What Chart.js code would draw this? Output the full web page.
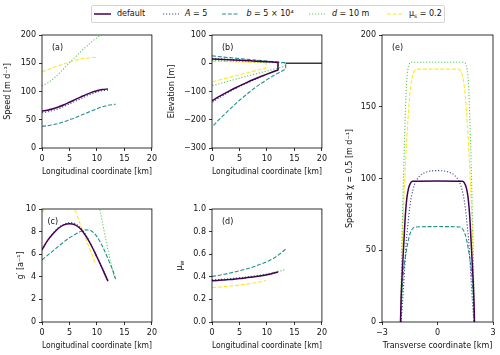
<!DOCTYPE html>
<html>
<head>
<meta charset="utf-8">
<script src="https://cdn.jsdelivr.net/npm/chart.js@4.4.1/dist/chart.umd.min.js"></script>
<style>
  body { margin: 0; width: 500px; height: 355px; position: relative; background: #fff; overflow: hidden; font-family: "DejaVu Sans", sans-serif; }
  canvas { position: absolute; }
  #legend { position: absolute; left: 91px; top: 5px; width: 352px; height: 16px; border: 1px solid #d4d4d4; border-radius: 2px; background: rgba(255,255,255,0.8); font-size: 8px; color: #111; }
  #legend svg, #legend span { position: absolute; }
  #legend span { top: 3px; line-height: 10px; white-space: nowrap; }
  #legend sub { font-size: 6px; vertical-align: -2px; line-height: 0; }
</style>
</head>
<body>
<div id="legend"></div>
<canvas id="panelA"></canvas>
<canvas id="panelB"></canvas>
<canvas id="panelC"></canvas>
<canvas id="panelD"></canvas>
<canvas id="panelE"></canvas>
<script>
// ---------- data ----------
// longitudinal positions of each run [km]
const kmDefault = [0, 1, 2, 3, 4, 5, 6, 7, 8, 9, 10, 11, 12];
const kmA = [0, 1, 2, 3, 4, 5, 6, 7, 8, 9, 10, 11, 12.1];
const kmB = [0, 1, 2, 3, 4, 5, 6, 7, 8, 9, 10, 11, 12, 13, 13.4];
const kmD = [0, 1, 2, 3, 4, 5, 6, 7, 8, 9, 10, 11, 12, 13, 13.3];
const kmMu = [0, 1, 2, 3, 4, 5, 6, 7, 8, 9, 9.8];

// (a) speed [m/d]
const speedDefault = [65.5, 67, 69.5, 72.5, 76.5, 81, 85.5, 90, 94.5, 98.5, 101.5, 103.5, 104.5];
const speedA = [62.5, 64, 66.5, 69.5, 73.5, 78, 82.5, 87, 91.5, 95.5, 99, 101.5, 102.5];
const speedB = [38.5, 39.5, 41.5, 43.5, 46.5, 50, 53.5, 57.5, 61.5, 65.5, 69.5, 73, 75.5, 77, 77.5];
const speedD = [110, 115, 122, 131, 141, 151, 160.5, 170, 179, 187.5, 195, 202, 209, 215, 217];
const speedMu = [135, 138.5, 142, 145.5, 149, 152, 155, 157.5, 159, 160, 160.3];

// (b) surface and bed elevation [m]
const surfDefault = [15, 14, 13.1, 12.2, 11.3, 10.4, 9.5, 8.5, 7.5, 6.4, 5.3, 4.2, 3];
const bedDefault = [-133, -121, -110, -99.5, -89.5, -80, -71, -62, -54, -46, -38.5, -31, -24];
const surfA = [17, 16, 15, 14, 13, 12, 11, 10, 8.9, 7.8, 6.6, 5.3, 3.5];
const bedA = [-139, -126, -114, -103, -92.5, -82.5, -73, -64, -55, -47, -39, -32, -25];
const surfB = [26, 24, 22, 20.2, 18.4, 16.6, 14.8, 13, 11.2, 9.4, 7.6, 5.8, 4, 2.2, 1.5];
const bedB = [-226, -205, -186, -167, -149, -131, -115, -99, -84, -71, -58, -46, -35, -25, -20];
const surfD = [10, 9.3, 8.6, 7.9, 7.2, 6.5, 5.8, 5.1, 4.4, 3.7, 3, 2.3, 1.6, 0.9, 0.6];
const bedD = [-80, -74.5, -69, -63.5, -58, -52.5, -47.5, -42.5, -37.5, -32.5, -27.5, -22.5, -17.5, -12, -9];
const surfMu = [7, 6.5, 6, 5.5, 5, 4.5, 4, 3.5, 3, 2.5, 2];
const bedMu = [-66, -61, -56, -51, -46, -41, -36, -31, -26, -21, -17];
const seaKm = [13.4, 20];
const seaLevel = [0, 0];

// (c) g' [1/a]
const gDefault = [6.4, 7.2, 7.8, 8.3, 8.6, 8.7, 8.6, 8.25, 7.6, 6.75, 5.75, 4.7, 3.6];
const gA = [6.35, 7.2, 7.85, 8.35, 8.65, 8.8, 8.7, 8.35, 7.7, 6.8, 5.8, 4.75, 3.6];
const gB = [5.5, 5.9, 6.3, 6.7, 7.1, 7.45, 7.75, 8.0, 8.15, 8.05, 7.55, 6.7, 5.6, 4.4, 3.8];
const gD = [14, 15, 16, 16.6, 17, 17, 16.8, 16.2, 15.2, 13.6, 11.2, 8.8, 6.4, 4.3, 3.75];
const gMu = [9.7, 10.3, 10.8, 11.1, 11.1, 10.7, 9.9, 8.6, 7.3, 6.1, 5.1];

// (d) mu_w
const muDefault = [0.365, 0.368, 0.371, 0.375, 0.379, 0.384, 0.389, 0.395, 0.402, 0.41, 0.419, 0.43, 0.443];
const muA = [0.372, 0.375, 0.378, 0.382, 0.386, 0.39, 0.395, 0.4, 0.406, 0.413, 0.421, 0.431, 0.445];
const muB = [0.404, 0.411, 0.42, 0.43, 0.441, 0.453, 0.466, 0.48, 0.497, 0.515, 0.535, 0.558, 0.59, 0.628, 0.645];
const muD = [0.37, 0.373, 0.377, 0.381, 0.386, 0.391, 0.397, 0.403, 0.41, 0.418, 0.427, 0.437, 0.448, 0.459, 0.464];
const muMu = [0.305, 0.308, 0.312, 0.316, 0.321, 0.327, 0.333, 0.34, 0.348, 0.358, 0.367];

// (e) transverse speed profile at chi = 0.5
const tvDefault = [-2, -1.97, -1.93, -1.87, -1.8, -1.74, -1.66, -1.56, -1.45, -1.35, 0, 1.35, 1.45, 1.56, 1.66, 1.74, 1.8, 1.87, 1.93, 1.97, 2];
const uDefault = [0, 15, 28, 43, 60, 74, 86, 93.5, 97, 98, 98.2, 98, 97, 93.5, 86, 74, 60, 43, 28, 15, 0];
const tvA = [-1.97, -1.9, -1.8, -1.7, -1.6, -1.5, -1.4, -1.25, -1.1, -0.9, -0.6, -0.3, 0, 0.3, 0.6, 0.9, 1.1, 1.25, 1.4, 1.5, 1.6, 1.7, 1.8, 1.9, 1.97];
const uA = [0, 12, 32, 54, 68, 80, 88, 95.5, 99.5, 102.5, 104.5, 105.3, 105.5, 105.3, 104.5, 102.5, 99.5, 95.5, 88, 80, 68, 54, 32, 12, 0];
const tvB = [-1.98, -1.95, -1.9, -1.83, -1.74, -1.65, -1.55, -1.47, -1.35, -1.2, 0, 1.2, 1.35, 1.47, 1.55, 1.65, 1.74, 1.83, 1.9, 1.95, 1.98];
const uB = [0, 12, 25, 36, 45, 52, 58.5, 62, 65, 66.2, 66.5, 66.2, 65, 62, 58.5, 52, 45, 36, 25, 12, 0];
const tvD = [-2, -1.96, -1.92, -1.87, -1.82, -1.77, -1.72, -1.67, -1.6, -1.52, -1.42, 0, 1.42, 1.52, 1.6, 1.67, 1.72, 1.77, 1.82, 1.87, 1.92, 1.96, 2];
const uD = [0, 30, 58, 85, 110, 133, 152, 167, 176, 180, 181, 181, 181, 180, 176, 167, 152, 133, 110, 85, 58, 30, 0];
const tvMu = [-2, -1.93, -1.85, -1.75, -1.65, -1.55, -1.45, -1.35, -1.25, -1.1, 0, 1.1, 1.25, 1.35, 1.45, 1.55, 1.65, 1.75, 1.85, 1.93, 2];
const uMu = [0, 40, 75, 105, 130, 150, 164, 171.5, 175, 176.2, 176.2, 176.2, 175, 171.5, 164, 150, 130, 105, 75, 40, 0];

// ---------- styles ----------
const runs = [
    { label: 'default', html: 'default', color: '#440154', width: 1.5, dash: [] },
    { label: 'A = 5', html: '<i>A</i> = 5', color: '#3b528b', width: 1.1, dash: [1.2, 1.8] },
    { label: 'b = 5 × 10⁴', html: '<i>b</i> = 5 × 10⁴', color: '#21918c', width: 1.1, dash: [4, 1.8] },
    { label: 'd = 10 m', html: '<i>d</i> = 10 m', color: '#5ec962', width: 1.1, dash: [1.2, 1.8] },
    { label: 'μs = 0.2', html: 'μ<sub>s</sub> = 0.2', color: '#fde725', width: 1.1, dash: [4, 1.8] }
];
const FONT = { family: '"DejaVu Sans", sans-serif', size: 8 };
const INK = '#111';

function pts(xs, ys) {
    return xs.map((x, i) => ({ x: x, y: ys[i] }));
}

// surface seaward, then bed back to the divide
function outline(xs, surf, bed) {
    const top = pts(xs, surf);
    const bottom = pts(xs, bed).reverse();
    return top.concat(bottom);
}

function lineSet(run, data, extra) {
    return Object.assign({
        label: run.label,
        data: data,
        borderColor: run.color,
        borderWidth: run.width,
        borderDash: run.dash,
        pointRadius: 0,
        fill: false,
        cubicInterpolationMode: 'monotone'
    }, extra || {});
}

const minus = (v) => String(v).replace('-', '\u2212');

// frame, panel tag and custom titles
const framePlugin = {
    id: 'frame',
    afterDraw(chart, args, o) {
        const { ctx, chartArea: a } = chart;
        ctx.save();
        ctx.strokeStyle = '#000';
        ctx.lineWidth = 0.8;
        ctx.strokeRect(a.left, a.top, a.right - a.left, a.bottom - a.top);
        ctx.fillStyle = INK;
        ctx.font = '8px "DejaVu Sans"';
        ctx.textBaseline = 'middle';
        ctx.fillText(o.tag, a.left + o.dx, a.top + 13);
        if (o.muTitle) {
            ctx.translate(a.left - 32, (a.top + a.bottom) / 2);
            ctx.rotate(-Math.PI / 2);
            const w1 = ctx.measureText('μ').width;
            ctx.font = '6px "DejaVu Sans"';
            const w2 = ctx.measureText('w').width;
            ctx.textAlign = 'left';
            ctx.font = '8px "DejaVu Sans"';
            ctx.fillText('μ', -(w1 + w2) / 2, 0);
            ctx.font = '6px "DejaVu Sans"';
            ctx.fillText('w', -(w1 + w2) / 2 + w1, 2.5);
        }
        ctx.restore();
    }
};

function axis(min, max, step, title, size, horizontal, fmt) {
    const a = {
        type: 'linear', min: min, max: max,
        ticks: { stepSize: step, color: INK, font: FONT, padding: 3, maxRotation: 0, autoSkip: false, callback: fmt || minus },
        grid: { drawOnChartArea: false, drawTicks: true, tickLength: 3, color: '#000', lineWidth: 0.8 },
        border: { display: false },
        title: { display: !!title, text: title, color: INK, font: FONT, padding: 0 }
    };
    if (horizontal) a.afterFit = (s) => { s.height = size; };
    else a.afterFit = (s) => { s.width = size; };
    return a;
}

// box = plot area in page pixels, yw = room left of it for ticks and title
function makePanel(id, box, yw, xScale, yScale, datasets, frameOpts) {
    const xh = 29;
    const el = document.getElementById(id);
    const w = box.R - box.L + yw + 7;
    const h = box.B - box.T + 8 + xh;
    el.width = w;
    el.height = h;
    el.style.left = (box.L - yw) + 'px';
    el.style.top = (box.T - 8) + 'px';
    el.style.width = w + 'px';
    el.style.height = h + 'px';
    xScale.afterFit = (s) => { s.height = xh; };
    yScale.afterFit = (s) => { s.width = yw; };
    new Chart(el, {
        type: 'line',
        data: { datasets: datasets },
        options: {
            responsive: false,
            animation: false,
            events: [],
            layout: { padding: { left: 0, top: 8, right: 7, bottom: 0 } },
            plugins: { legend: { display: false }, tooltip: { enabled: false }, frame: frameOpts },
            scales: { x: xScale, y: yScale }
        },
        plugins: [framePlugin]
    });
}

const LONG = 'Longitudinal coordinate [km]';

makePanel('panelA', { L: 42, T: 35, R: 153, B: 148 }, 39,
    axis(0, 20, 5, LONG, 29, true),
    axis(0, 200, 50, 'Speed [m d\u207B\u00B9]', 39, false),
    [
        lineSet(runs[0], pts(kmDefault, speedDefault)),
        lineSet(runs[1], pts(kmA, speedA)),
        lineSet(runs[2], pts(kmB, speedB)),
        lineSet(runs[3], pts(kmD, speedD)),
        lineSet(runs[4], pts(kmMu, speedMu))
    ],
    { tag: '(a)', dx: 10 });

makePanel('panelB', { L: 212, T: 35, R: 323, B: 148 }, 45,
    axis(0, 20, 5, LONG, 29, true),
    axis(-300, 100, 100, 'Elevation [m]', 45, false),
    [
        lineSet(runs[0], outline(kmDefault, surfDefault, bedDefault), { tension: 0, cubicInterpolationMode: 'default' }),
        lineSet(runs[1], outline(kmA, surfA, bedA), { tension: 0, cubicInterpolationMode: 'default' }),
        lineSet(runs[2], outline(kmB, surfB, bedB), { tension: 0, cubicInterpolationMode: 'default' }),
        lineSet(runs[3], outline(kmD, surfD, bedD), { tension: 0, cubicInterpolationMode: 'default' }),
        lineSet(runs[4], outline(kmMu, surfMu, bedMu), { tension: 0, cubicInterpolationMode: 'default' }),
        { label: 'sea', data: pts(seaKm, seaLevel), borderColor: '#3a3a3a', borderWidth: 1.5, pointRadius: 0 }
    ],
    { tag: '(b)', dx: 10 });

makePanel('panelC', { L: 42, T: 209, R: 153, B: 322 }, 26,
    axis(0, 20, 5, LONG, 29, true),
    axis(0, 10, 2, 'g\u2032 [a\u207B\u00B9]', 26, false),
    [
        lineSet(runs[0], pts(kmDefault, gDefault)),
        lineSet(runs[1], pts(kmA, gA)),
        lineSet(runs[2], pts(kmB, gB)),
        lineSet(runs[3], pts(kmD, gD)),
        lineSet(runs[4], pts(kmMu, gMu))
    ],
    { tag: '(c)', dx: 5.5 });

makePanel('panelD', { L: 212, T: 209, R: 323, B: 322 }, 37,
    axis(0, 20, 5, LONG, 29, true),
    axis(0, 1, 0.2, '', 37, false, (v) => v.toFixed(1)),
    [
        lineSet(runs[0], pts(kmDefault, muDefault)),
        lineSet(runs[1], pts(kmA, muA)),
        lineSet(runs[2], pts(kmB, muB)),
        lineSet(runs[3], pts(kmD, muD)),
        lineSet(runs[4], pts(kmMu, muMu))
    ],
    { tag: '(d)', dx: 10, muTitle: true });

makePanel('panelE', { L: 382, T: 35, R: 493, B: 322 }, 37,
    axis(-3, 3, 3, 'Transverse coordinate [km]', 29, true),
    axis(0, 200, 50, 'Speed at \u03C7 = 0.5 [m d\u207B\u00B9]', 37, false),
    [
        lineSet(runs[0], pts(tvDefault, uDefault)),
        lineSet(runs[1], pts(tvA, uA)),
        lineSet(runs[2], pts(tvB, uB)),
        lineSet(runs[3], pts(tvD, uD)),
        lineSet(runs[4], pts(tvMu, uMu))
    ],
    { tag: '(e)', dx: 10 });

// ---------- legend ----------
const legendSlots = [
    { x1: 94, x2: 111, tx: 117 },
    { x1: 163, x2: 179, tx: 185 },
    { x1: 222, x2: 239, tx: 246.5 },
    { x1: 309, x2: 325, tx: 332 },
    { x1: 387, x2: 402, tx: 409 }
];
const legend = document.getElementById('legend');
legend.innerHTML = runs.map((run, i) => {
    const s = legendSlots[i];
    const left = s.x1 - 92, w = s.x2 - s.x1;
    return `<svg style="left:${left}px; top:6px;" width="${w}" height="4">
              <line x1="0" y1="2" x2="${w}" y2="2" stroke="${run.color}" stroke-width="${run.width}" stroke-dasharray="${run.dash.join(' ') || 'none'}"/>
            </svg>
            <span style="left:${s.tx - 92}px;">${run.html}</span>`;
}).join('');
</script>
</body>
</html>
